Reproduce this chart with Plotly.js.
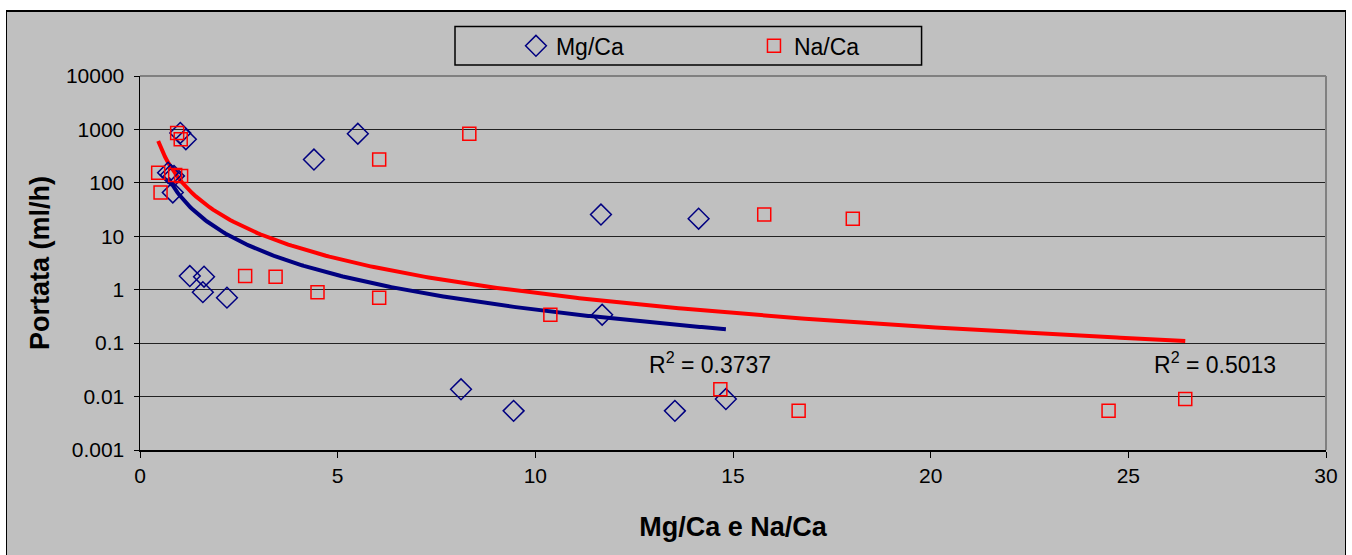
<!DOCTYPE html>
<html><head><meta charset="utf-8">
<script src="https://cdn.plot.ly/plotly-3.0.1.min.js"></script>
<style>
html,body{margin:0;padding:0;background:#fff;width:1352px;height:555px;overflow:hidden;}
#frame{position:absolute;left:6px;top:10px;width:1338px;height:543px;border:1px solid #000;border-top:2px solid #000;border-bottom:none;background:#C0C0C0;}
#chart{width:1338px;height:543px;}
</style></head>
<body><div id="frame"><div id="chart"></div></div>
<script>
// Portata (ml/h) of each sample, shared by both series
const portata = [860, 655, 155, 140, 135, 66, 1.8, 1.75, 0.9, 0.71, 830, 273, 0.34, 25.5, 21.3, 0.0137, 0.0054, 0.0054, 0.009];
// Mg/Ca ratio of each sample
const mgCa = [1.02, 1.16, 0.71, 0.78, 0.86, 0.83, 1.26, 1.62, 1.59, 2.2, 5.51, 4.40, 11.69, 11.66, 14.13, 8.12, 9.45, 13.53, 14.82];
// Na/Ca ratio of each sample
const naCa = [0.94, 1.03, 0.46, 0.89, 1.04, 0.52, 2.66, 3.43, 4.49, 6.05, 8.33, 6.05, 10.38, 15.79, 18.03, 14.68, 16.66, 24.50, 26.44];
const seriesNames = ['Mg/Ca', 'Na/Ca'];
const r2Labels = ['R<sup>2</sup> = 0.3737', 'R<sup>2</sup> = 0.5013'];
const xTicks = [0, 5, 10, 15, 20, 25, 30];
const yTicks = [0.001, 0.01, 0.1, 1, 10, 100, 1000, 10000];
const yTickText = ['0.001', '0.01', '0.1', '1', '10', '100', '1000', '10000'];

// Power trendline (least squares in log space), as a spreadsheet computes it
function powerTrend(xs, ys, n) {
  const lx = xs.map(Math.log), ly = ys.map(Math.log);
  const m = lx.length;
  const mx = lx.reduce((s, v) => s + v, 0) / m, my = ly.reduce((s, v) => s + v, 0) / m;
  let sxy = 0, sxx = 0;
  for (let i = 0; i < m; i++) { sxy += (lx[i] - mx) * (ly[i] - my); sxx += (lx[i] - mx) ** 2; }
  const b = sxy / sxx, a = Math.exp(my - b * mx);
  const x0 = Math.min(...xs), x1 = Math.max(...xs);
  const tx = [], ty = [];
  for (let i = 0; i <= n; i++) { const x = x0 + (x1 - x0) * i / n; tx.push(x); ty.push(a * Math.pow(x, b)); }
  return {x: tx, y: ty};
}
const tMg = powerTrend(mgCa, portata, 300);
const tNa = powerTrend(naCa, portata, 300);

const NAVY = '#000080', RED = '#FF0000';
const data = [
  {x: tNa.x, y: tNa.y, mode: 'lines', line: {color: RED, width: 4}, showlegend: false, hoverinfo: 'skip'},
  {x: tMg.x, y: tMg.y, mode: 'lines', line: {color: NAVY, width: 4}, showlegend: false, hoverinfo: 'skip'},
  {x: mgCa, y: portata, name: seriesNames[0], mode: 'markers', type: 'scatter',
   marker: {symbol: 'diamond-open', size: 16, color: NAVY, line: {width: 1.5, color: NAVY}}},
  {x: naCa, y: portata, name: seriesNames[1], mode: 'markers', type: 'scatter',
   marker: {symbol: 'square-open', size: 13, color: RED, line: {width: 1.5, color: RED}}}
];

const FONT = 'Arial, "Liberation Sans", sans-serif';
const layout = {
  width: 1338, height: 543,
  margin: {l: 133, r: 19, t: 60, b: 105},
  paper_bgcolor: '#C0C0C0', plot_bgcolor: '#C0C0C0',
  font: {family: FONT, color: '#000', size: 21},
  showlegend: true,
  legend: {orientation: 'h', x: 0.317, xanchor: 'left', y: 1.0807, yanchor: 'middle',
    bgcolor: 'rgba(0,0,0,0)', borderwidth: 0, font: {size: 23, family: FONT},
    entrywidth: 193, entrywidthmode: 'pixels', traceorder: 'normal'},
  xaxis: {range: [0, 30], tickvals: xTicks, ticks: 'outside', ticklen: 6, tickcolor: '#000', tickwidth: 1,
    showline: true, linecolor: '#000', linewidth: 1.5, showgrid: false, zeroline: false,
    tickfont: {size: 21}, title: {text: '<b>Mg/Ca e Na/Ca</b>', font: {size: 27}, standoff: 31}},
  yaxis: {type: 'log', range: [-3, 4], tickvals: yTicks, ticktext: yTickText, ticks: 'outside', ticklen: 5,
    tickcolor: '#000', showline: true, linecolor: '#000', linewidth: 1.5, showgrid: true, gridcolor: '#222', gridwidth: 1,
    zeroline: false, tickfont: {size: 21}, ticklabelstandoff: 5,
    title: {text: '<b>Portata (ml/h)</b>', font: {size: 27}, standoff: 8}},
  shapes: [
    {type: 'rect', xref: 'paper', yref: 'paper', x0: 0.2656, x1: 0.659, y0: 1.0291, y1: 1.1323,
     line: {color: '#000', width: 1.5}, fillcolor: 'rgba(0,0,0,0)'},
    {type: 'line', xref: 'paper', yref: 'paper', x0: 0, x1: 1, y0: 1, y1: 1, line: {color: '#808080', width: 2}},
    {type: 'line', xref: 'paper', yref: 'paper', x0: 1, x1: 1, y0: 0, y1: 1, line: {color: '#808080', width: 2}}
  ],
  annotations: [
    {x: 12.82, y: -1.37, xref: 'x', yref: 'y', text: r2Labels[0], showarrow: false, xanchor: 'left', yanchor: 'middle', font: {size: 23}},
    {x: 25.59, y: -1.37, xref: 'x', yref: 'y', text: r2Labels[1], showarrow: false, xanchor: 'left', yanchor: 'middle', font: {size: 23}}
  ]
};
Plotly.newPlot('chart', data, layout, {displayModeBar: false, staticPlot: true});
</script>
</body></html>
